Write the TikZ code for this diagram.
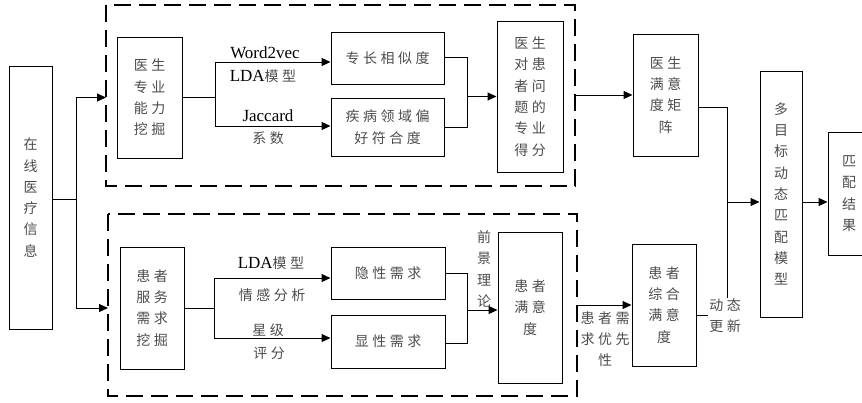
\documentclass[tikz,border=0pt]{standalone}
\usepackage{fontspec}
\setmainfont{Liberation Serif}
\newfontfamily\cjk[LetterSpace=25]{Noto Sans CJK SC}
\usetikzlibrary{arrows.meta}
\definecolor{txt}{gray}{0.3}
\newcommand\cjkbox{\cjk\fontsize{14}{21.3}\selectfont}
\newcommand\cjklab[1]{{\cjk\fontsize{14}{17}\selectfont\color{txt}#1}}
\begin{document}
\begin{tikzpicture}[x=1pt,y=-1pt,
  box/.style={draw, line width=1pt, inner sep=0pt, align=center, font=\cjkbox, text=txt},
  dbox/.style={draw, line width=1.1pt, dash pattern=on 17pt off 8pt},
  lat/.style={inner sep=1pt, font=\fontsize{17}{20}\selectfont, text=black},
  cl/.style={inner sep=1pt, align=center, font=\cjkbox, text=txt},
  ln/.style={line width=1pt},
  arr/.style={line width=1pt, -{Triangle[length=9pt,width=8pt]}}]
\useasboundingbox (0,0) rectangle (862,402);
% dashed group frames
\draw[dbox] (106,5) rectangle (575,186);
\draw[dbox] (108,214) rectangle (577,396);
\coordinate (tbw) at (106,97.5);
\coordinate (tbe) at (575,95);
\coordinate (bbw) at (108,308);
\coordinate (bbe) at (577,305);
% boxes
\node[box, minimum width=43pt, minimum height=263pt] (info) at (30.5,197.5) {在\\线\\医\\疗\\信\\息};
\node[box, minimum width=65pt, minimum height=121pt] (docmine) at (149.5,97.5) {医生\\专业\\能力\\挖掘};
\node[box, minimum width=113pt, minimum height=52pt] (sim) at (387.5,58) {专长相似度};
\node[box, minimum width=113pt, minimum height=58pt] (dis) at (387.5,127) {疾病领域偏\\好符合度};
\node[box, minimum width=66pt, minimum height=151pt] (score) at (530,96.5) {医生\\对患\\者问\\题的\\专业\\得分};
\node[box, minimum width=65pt, minimum height=122pt] (docsat) at (665.5,95) {医生\\满意\\度矩\\阵};
\node[box, minimum width=42pt, minimum height=246pt] (multi) at (781,194) {多\\目\\标\\动\\态\\匹\\配\\模\\型};
\node[box, minimum width=42pt, minimum height=123pt] (result) at (849,193.5) {匹\\配\\结\\果};
\node[box, minimum width=64pt, minimum height=122pt] (patmine) at (152,308) {患者\\服务\\需求\\挖掘};
\node[box, minimum width=114pt, minimum height=52pt] (impl) at (388,273) {隐性需求};
\node[box, minimum width=114pt, minimum height=53pt] (expl) at (388,341.5) {显性需求};
\node[box, minimum width=64pt, minimum height=151pt] (patsat) at (530,307.5) {患者\\满意\\度};
\node[box, minimum width=64pt, minimum height=122pt] (patcomp) at (664,305) {患者\\综合\\满意\\度};
% labels
\node[lat] (w2v) at (265,53) {Word2vec};
\node[lat] (lda1) at (263,76) {LDA\cjklab{模型}};
\node[lat] (jac) at (268,116) {Jaccard};
\node[cl] (xs) at (268,138) {系数};
\node[lat] (lda2) at (271,263) {LDA\cjklab{模型}};
\node[cl] (qg) at (272,295) {情感分析};
\node[cl] (xj) at (268,330) {星级};
\node[cl] (pf) at (269,353) {评分};
\node[cl] (qj) at (484,269) {前\\景\\理\\论};
\node[cl] (xq) at (605,339) {患者需\\求优先\\性};
% connector points
\coordinate (fork) at (76,199);
\coordinate (s1) at (215,97.5);
\coordinate (s1a) at (215,62);
\coordinate (s1b) at (215,126);
\coordinate (m1) at (467,96.5);
\coordinate (s2) at (214,308);
\coordinate (s2a) at (214,278);
\coordinate (s2b) at (214,338);
\coordinate (m2) at (467,310);
\coordinate (j) at (727,202);
% connectors
\draw[ln] (info.east |- fork) -- (fork);
\draw[arr] (fork) |- (tbw);
\draw[arr] (fork) |- (bbw);
\draw[ln] (docmine.east) -- (s1);
\draw[ln] (s1a) -- (s1b);
\draw[arr] (s1a) -- (sim.west |- s1a);
\draw[arr] (s1b) -- (dis.west |- s1b);
\draw[ln] ([yshift=1pt]sim.east) -| (m1);
\draw[ln] (dis.east) -| (m1);
\draw[arr] (m1) -- (score.west |- m1);
\draw[arr] (tbe) -- (docsat.west |- tbe);
\draw[ln] ([yshift=-12pt]docsat.east) -| (j);
\draw[ln] ([yshift=-10pt]patcomp.east) -| (j);
\draw[arr] (j) -- (multi.west |- j);
\draw[arr] (multi.east |- j) -- (result.west |- j);
\draw[ln] (patmine.east) -- (s2);
\draw[ln] (s2a) -- (s2b);
\draw[arr] (s2a) -- (impl.west |- s2a);
\draw[arr] (s2b) -- (expl.west |- s2b);
\draw[ln] (impl.east) -| (m2);
\draw[ln] ([yshift=-1.5pt]expl.east) -| (m2);
\draw[arr] (m2) -- (patsat.west |- m2);
\draw[arr] (bbe) -- (patcomp.west |- bbe);
\node[cl, fill=white] (dt) at (725,316) {动态\\更新};
\end{tikzpicture}
\end{document}
